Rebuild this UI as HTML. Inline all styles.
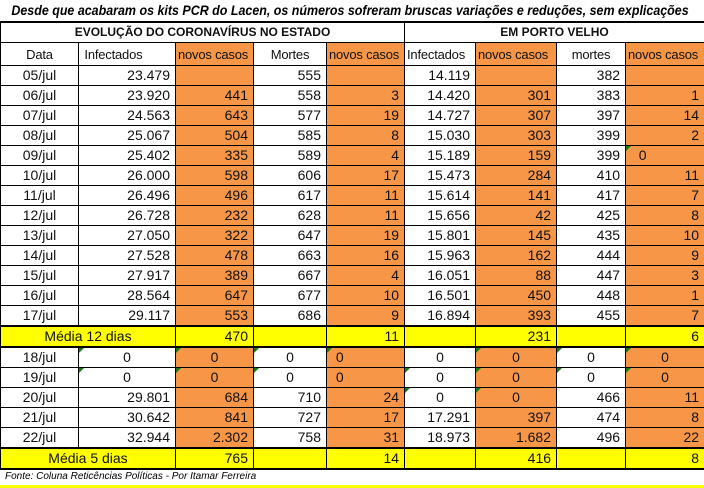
<!DOCTYPE html>
<html><head><meta charset="utf-8"><style>
body{margin:0;width:704px;height:488px;background:#fff;overflow:hidden;font-family:"Liberation Sans",sans-serif;}
table{border-collapse:collapse;table-layout:fixed;position:absolute;left:0;top:22px;width:704px;}
td{border:1px solid #000;height:19px;padding:0 5px;font-size:14px;line-height:19px;text-align:right;color:#111;white-space:nowrap;overflow:hidden;position:relative}
td.c{text-align:center}
td.l{text-align:left}
tr.ch td{font-size:13px;padding:0 2px;letter-spacing:-0.2px}
.o{background:#F79646}
.y{background:#FFFF00}
tr.m td{border-top:2px solid #000;border-bottom:2px solid #000}
.t{position:absolute;left:0;top:0;width:704px;height:21px;border-bottom:2px solid #000;font-style:italic;font-weight:bold;font-size:14px;line-height:21px;white-space:nowrap;overflow:hidden}
.t span{position:absolute;left:350px;top:0;transform:translateX(-50%) scaleX(0.89);}
.h td{font-weight:bold;font-size:12px;text-align:center}
.g::before{content:"";position:absolute;left:0;top:0;border-top:5px solid #1a7a1a;border-right:5px solid transparent}
.f{position:absolute;left:5px;top:471px;font-size:10px;font-style:italic}
.yb{position:absolute;left:0;top:485px;width:704px;height:3px;background:#FFFF00}
</style></head><body>
<div class="t"><span>Desde que acabaram os kits PCR do Lacen, os números sofreram bruscas variações e reduções, sem explicações</span></div>
<table>
<colgroup><col style="width:78px"><col style="width:97px"><col style="width:78px"><col style="width:73px"><col style="width:78px"><col style="width:71px"><col style="width:81px"><col style="width:69px"><col style="width:79px"></colgroup>
<tr class="h"><td colspan="5">EVOLUÇÃO DO CORONAVÍRUS NO ESTADO</td><td colspan="4">EM PORTO VELHO</td></tr>
<tr class="ch" style="height:23px"><td class="c">Data</td><td class="l">&nbsp;Infectados</td><td class="o l">novos casos</td><td class="c">Mortes</td><td class="o l">novos casos</td><td class="l">Infectados</td><td class="o l">novos casos</td><td class="c">mortes</td><td class="o l">novos casos</td></tr>
<tr><td class="c">05/jul</td><td>23.479</td><td class="o"></td><td>555</td><td class="o"></td><td>14.119</td><td class="o"></td><td>382</td><td class="o"></td></tr>
<tr><td class="c">06/jul</td><td>23.920</td><td class="o">441</td><td>558</td><td class="o">3</td><td>14.420</td><td class="o">301</td><td>383</td><td class="o">1</td></tr>
<tr><td class="c">07/jul</td><td>24.563</td><td class="o">643</td><td>577</td><td class="o">19</td><td>14.727</td><td class="o">307</td><td>397</td><td class="o">14</td></tr>
<tr><td class="c">08/jul</td><td>25.067</td><td class="o">504</td><td>585</td><td class="o">8</td><td>15.030</td><td class="o">303</td><td>399</td><td class="o">2</td></tr>
<tr><td class="c">09/jul</td><td>25.402</td><td class="o">335</td><td>589</td><td class="o">4</td><td>15.189</td><td class="o">159</td><td>399</td><td class="o l g">&nbsp;&nbsp;0</td></tr>
<tr><td class="c">10/jul</td><td>26.000</td><td class="o">598</td><td>606</td><td class="o">17</td><td>15.473</td><td class="o">284</td><td>410</td><td class="o">11</td></tr>
<tr><td class="c">11/jul</td><td>26.496</td><td class="o">496</td><td>617</td><td class="o">11</td><td>15.614</td><td class="o">141</td><td>417</td><td class="o">7</td></tr>
<tr><td class="c">12/jul</td><td>26.728</td><td class="o">232</td><td>628</td><td class="o">11</td><td>15.656</td><td class="o">42</td><td>425</td><td class="o">8</td></tr>
<tr><td class="c">13/jul</td><td>27.050</td><td class="o">322</td><td>647</td><td class="o">19</td><td>15.801</td><td class="o">145</td><td>435</td><td class="o">10</td></tr>
<tr><td class="c">14/jul</td><td>27.528</td><td class="o">478</td><td>663</td><td class="o">16</td><td>15.963</td><td class="o">162</td><td>444</td><td class="o">9</td></tr>
<tr><td class="c">15/jul</td><td>27.917</td><td class="o">389</td><td>667</td><td class="o">4</td><td>16.051</td><td class="o">88</td><td>447</td><td class="o">3</td></tr>
<tr><td class="c">16/jul</td><td>28.564</td><td class="o">647</td><td>677</td><td class="o">10</td><td>16.501</td><td class="o">450</td><td>448</td><td class="o">1</td></tr>
<tr><td class="c">17/jul</td><td>29.117</td><td class="o">553</td><td>686</td><td class="o">9</td><td>16.894</td><td class="o">393</td><td>455</td><td class="o">7</td></tr>
<tr class="m y"><td colspan="2" class="c">Média 12 dias</td><td>470</td><td></td><td>11</td><td></td><td>231</td><td></td><td>6</td></tr>
<tr><td class="c">18/jul</td><td class="c g">0</td><td class="o c g">0</td><td class="c g">0</td><td class="o l g">&nbsp;0</td><td class="c">0</td><td class="o c g">0</td><td class="c g">0</td><td class="o c g">0</td></tr>
<tr><td class="c">19/jul</td><td class="c g">0</td><td class="o c g">0</td><td class="c g">0</td><td class="o l">&nbsp;0</td><td class="c g">0</td><td class="o c g">0</td><td class="c g">0</td><td class="o c g">0</td></tr>
<tr><td class="c">20/jul</td><td>29.801</td><td class="o">684</td><td>710</td><td class="o">24</td><td class="c g">0</td><td class="o c g">0</td><td>466</td><td class="o">11</td></tr>
<tr><td class="c">21/jul</td><td>30.642</td><td class="o">841</td><td>727</td><td class="o">17</td><td>17.291</td><td class="o">397</td><td>474</td><td class="o">8</td></tr>
<tr><td class="c">22/jul</td><td>32.944</td><td class="o">2.302</td><td>758</td><td class="o">31</td><td>18.973</td><td class="o">1.682</td><td>496</td><td class="o">22</td></tr>
<tr class="m y"><td colspan="2" class="c">Média 5 dias</td><td>765</td><td></td><td>14</td><td></td><td>416</td><td></td><td>8</td></tr>
</table>
<div class="f">Fonte: Coluna Reticências Políticas - Por Itamar Ferreira</div>
<div class="yb"></div>
</body></html>
